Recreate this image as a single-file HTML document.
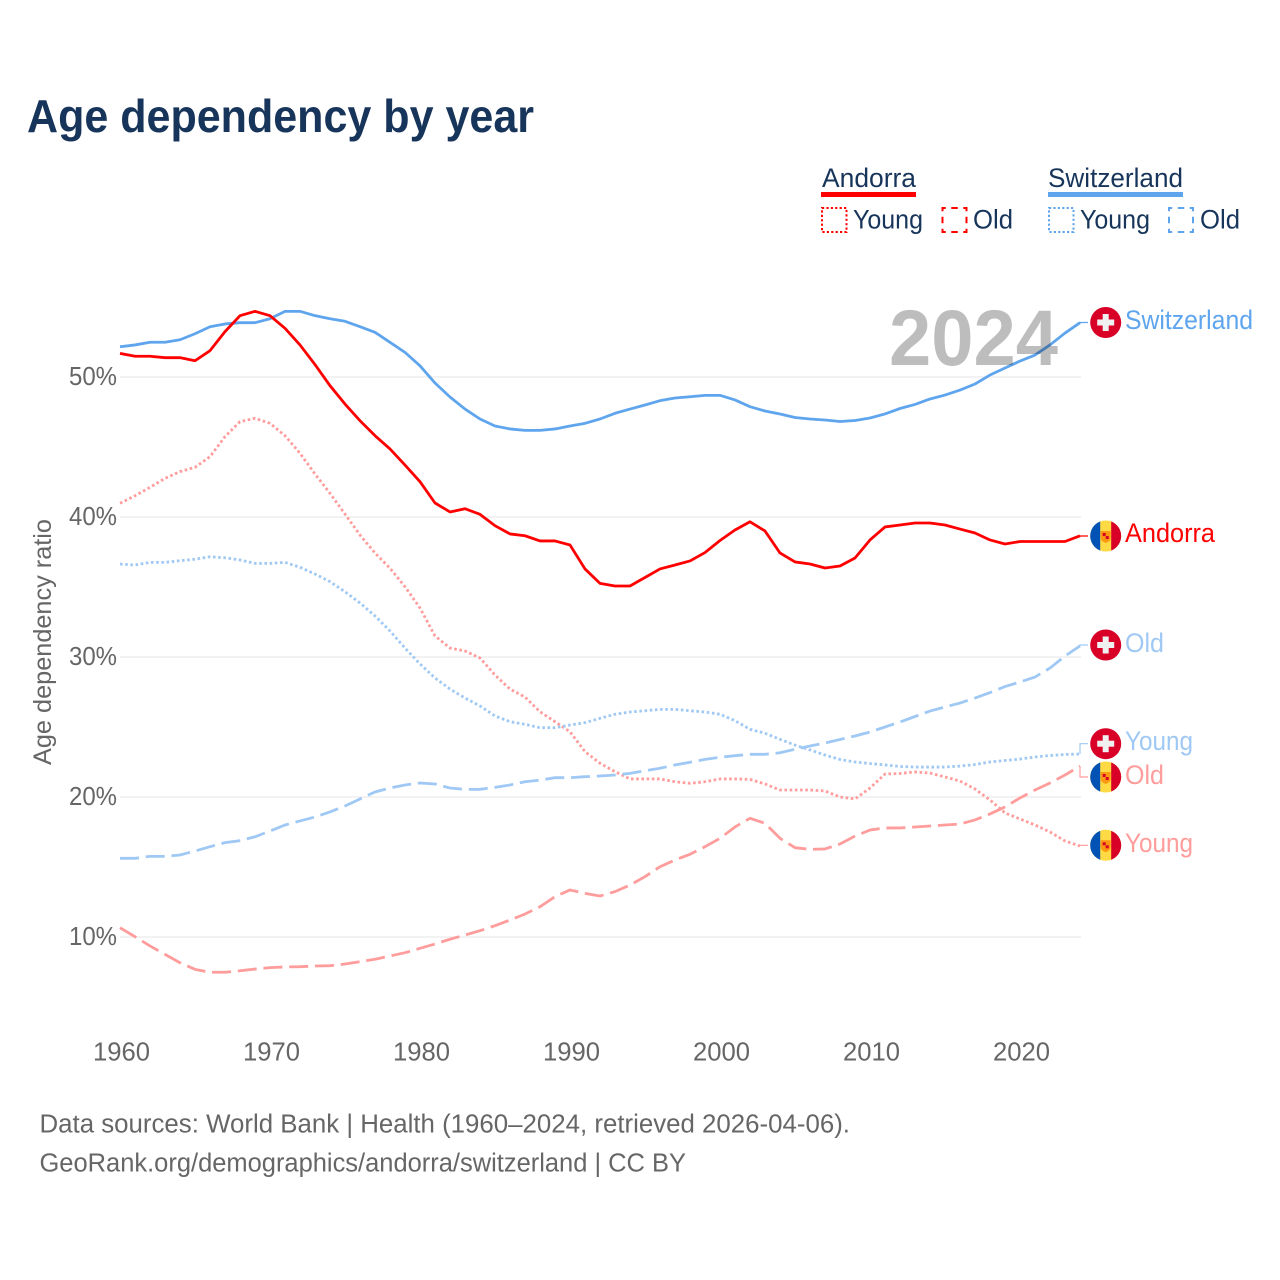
<!DOCTYPE html>
<html lang="en">
<head>
<meta charset="utf-8">
<title>Age dependency by year</title>
<style>
html,body{margin:0;padding:0;background:#fff;}
svg{display:block;font-family:"Liberation Sans",sans-serif;}
</style>
</head>
<body>
<svg id="chart" xmlns="http://www.w3.org/2000/svg" width="1280" height="1280" viewBox="0 0 1280 1280">
  <rect x="0" y="0" width="1280" height="1280" fill="#ffffff"/>
  <text x="27" y="132" font-size="46" font-weight="bold" fill="#17345a" textLength="507" lengthAdjust="spacingAndGlyphs">Age dependency by year</text>

  <g font-size="27" fill="#17345a">
    <text x="822" y="187" textLength="94" lengthAdjust="spacingAndGlyphs">Andorra</text>
    <rect x="821" y="192" width="95" height="5" fill="#ff0000"/>
    <rect x="822" y="208" width="24.5" height="24" fill="none" stroke="#ff0000" stroke-width="2" stroke-dasharray="2.2 2.2"/>
    <text x="853" y="228.5" textLength="70" lengthAdjust="spacingAndGlyphs">Young</text>
    <rect x="942.500" y="208" width="24" height="24" fill="none" stroke="#ff0000" stroke-width="2" stroke-dasharray="6.500 5.500" stroke-dashoffset="3.250"/>
    <text x="973" y="228.5" textLength="40" lengthAdjust="spacingAndGlyphs">Old</text>
    <text x="1048" y="187" textLength="135" lengthAdjust="spacingAndGlyphs">Switzerland</text>
    <rect x="1048" y="192" width="135" height="5" fill="#5fa5ee"/>
    <rect x="1049" y="208" width="24.5" height="24" fill="none" stroke="#5fa5ee" stroke-width="2" stroke-dasharray="2.2 2.2"/>
    <text x="1080" y="228.5" textLength="70" lengthAdjust="spacingAndGlyphs">Young</text>
    <rect x="1169" y="208" width="24" height="24" fill="none" stroke="#5fa5ee" stroke-width="2" stroke-dasharray="6.500 5.500" stroke-dashoffset="3.250"/>
    <text x="1200" y="228.5" textLength="40" lengthAdjust="spacingAndGlyphs">Old</text>
  </g>

  <text transform="translate(51 642) rotate(-90)" text-anchor="middle" font-size="25" fill="#666666" textLength="246" lengthAdjust="spacingAndGlyphs">Age dependency ratio</text>
  <g id="grid"></g>
  <g id="y-ticks"></g>
  <g id="x-ticks"></g>
  <g id="series"></g>

  <text x="889" y="365" font-size="79" font-weight="bold" fill="#000000" fill-opacity="0.26" textLength="169" lengthAdjust="spacingAndGlyphs">2024</text>

  <defs>
    <clipPath id="flag-clip"><circle cx="0" cy="0" r="15.500"/></clipPath>
    <g id="flag-ch">
      <circle cx="0" cy="0" r="15.500" fill="#d80027"/>
      <rect x="-8.500" y="-3" width="17" height="6" fill="#f0f0f0"/>
      <rect x="-3" y="-8.500" width="6" height="17" fill="#f0f0f0"/>
    </g>
    <g id="flag-ad">
      <g clip-path="url(#flag-clip)">
        <rect x="-16" y="-16" width="32" height="32" fill="#ffda44"/>
        <rect x="-16" y="-16" width="10.500" height="32" fill="#0052b4"/>
        <rect x="5.500" y="-16" width="10.500" height="32" fill="#d80027"/>
      </g>
      <path d="M-5 -5 H5 V2 Q5 5 0 7 Q-5 5 -5 2 Z" fill="#ff9811"/>
      <rect x="-3" y="-3" width="3" height="3" fill="#d80027"/>
      <rect x="0" y="0" width="3" height="3" fill="#d80027"/>
    </g>
  </defs>

  <g font-size="27">
    <use href="#flag-ch" x="1105.700" y="322.500"/>
    <text x="1125" y="329" fill="#5fa5ee" textLength="128" lengthAdjust="spacingAndGlyphs">Switzerland</text>
    <use href="#flag-ad" x="1105.700" y="536"/>
    <text x="1125" y="542" fill="#ff0000" textLength="90" lengthAdjust="spacingAndGlyphs">Andorra</text>
    <use href="#flag-ch" x="1105.700" y="645"/>
    <text x="1125" y="652" fill="#9fc9f4" textLength="39" lengthAdjust="spacingAndGlyphs">Old</text>
    <use href="#flag-ad" x="1105.700" y="777"/>
    <use href="#flag-ch" x="1105.700" y="743.700"/>
    <text x="1125" y="750" fill="#9fc9f4" textLength="68" lengthAdjust="spacingAndGlyphs">Young</text>
    <text x="1125" y="784" fill="#ff9c9c" textLength="39" lengthAdjust="spacingAndGlyphs">Old</text>
    <use href="#flag-ad" x="1105.700" y="845.300"/>
    <text x="1125" y="852" fill="#ff9c9c" textLength="68" lengthAdjust="spacingAndGlyphs">Young</text>
  </g>

  <g font-size="25.500" fill="#666666">
    <text x="39.500" y="1132.500" textLength="810.500" lengthAdjust="spacingAndGlyphs">Data sources: World Bank | Health (1960–2024, retrieved 2026-04-06).</text>
    <text x="39.500" y="1171.500" textLength="646.500" lengthAdjust="spacingAndGlyphs">GeoRank.org/demographics/andorra/switzerland | CC BY</text>
  </g>
</svg>
<script>
const startYear = 1960;
const xTickLabels = [1960, 1970, 1980, 1990, 2000, 2010, 2020];
const yTickLabels = [10, 20, 30, 40, 50];

const andorraTotal = [51.69,51.48,51.48,51.38,51.38,51.16,51.88,53.24,54.38,54.69,54.38,53.48,52.29,50.89,49.38,48.07,46.88,45.81,44.86,43.71,42.52,41.00,40.36,40.59,40.19,39.38,38.79,38.66,38.29,38.29,38.00,36.29,35.26,35.07,35.07,35.68,36.29,36.57,36.86,37.46,38.32,39.07,39.66,39.00,37.43,36.79,36.64,36.36,36.50,37.07,38.36,39.29,39.43,39.57,39.57,39.43,39.14,38.86,38.36,38.07,38.25,38.25,38.25,38.25,38.66];
const switzerlandTotal = [52.16,52.29,52.48,52.48,52.66,53.09,53.59,53.79,53.88,53.88,54.16,54.69,54.69,54.38,54.16,53.98,53.59,53.19,52.48,51.76,50.80,49.57,48.57,47.71,47.00,46.50,46.29,46.19,46.19,46.29,46.50,46.69,47.00,47.41,47.71,48.00,48.31,48.50,48.59,48.69,48.69,48.36,47.88,47.57,47.36,47.11,47.00,46.93,46.82,46.89,47.07,47.36,47.75,48.04,48.43,48.71,49.07,49.50,50.14,50.64,51.14,51.57,52.29,53.14,53.88];
const andorraYoung = [40.98,41.52,42.12,42.76,43.24,43.55,44.31,45.74,46.81,47.05,46.69,45.81,44.55,43.07,41.69,40.21,38.71,37.43,36.34,35.02,33.50,31.50,30.64,30.43,29.93,28.71,27.71,27.14,26.09,25.38,24.66,23.24,22.41,21.81,21.29,21.29,21.29,21.09,20.98,21.09,21.29,21.29,21.26,20.93,20.50,20.50,20.50,20.43,20.00,19.86,20.64,21.64,21.68,21.79,21.71,21.43,21.14,20.57,19.79,18.86,18.43,18.00,17.50,16.86,16.50];
const andorraOld = [10.66,10.02,9.36,8.76,8.16,7.69,7.48,7.48,7.59,7.71,7.81,7.86,7.88,7.93,7.95,8.07,8.24,8.41,8.64,8.88,9.19,9.50,9.84,10.14,10.45,10.81,11.21,11.64,12.16,12.88,13.36,13.12,12.93,13.24,13.71,14.31,15.02,15.50,15.91,16.45,17.05,17.86,18.48,18.12,17.05,16.38,16.26,16.29,16.64,17.21,17.64,17.79,17.79,17.86,17.93,18.00,18.07,18.36,18.79,19.29,19.93,20.50,21.00,21.57,22.21];
const switzerlandYoung = [36.64,36.57,36.76,36.76,36.88,36.98,37.16,37.09,36.93,36.69,36.69,36.76,36.41,35.93,35.38,34.66,33.86,32.93,31.86,30.64,29.50,28.50,27.71,27.07,26.50,25.79,25.38,25.19,24.95,24.95,25.14,25.31,25.62,25.91,26.07,26.16,26.26,26.26,26.16,26.07,25.91,25.45,24.84,24.55,24.12,23.71,23.36,23.00,22.68,22.50,22.39,22.29,22.18,22.14,22.14,22.14,22.21,22.32,22.50,22.61,22.71,22.86,22.96,23.04,23.07];
const switzerlandOld = [15.62,15.62,15.76,15.76,15.86,16.14,16.45,16.74,16.88,17.16,17.57,18.00,18.29,18.57,18.93,19.36,19.86,20.36,20.64,20.86,21.00,20.93,20.64,20.54,20.55,20.69,20.86,21.09,21.21,21.38,21.38,21.45,21.50,21.57,21.69,21.88,22.05,22.29,22.48,22.69,22.84,22.95,23.05,23.05,23.16,23.41,23.64,23.86,24.11,24.36,24.64,25.00,25.36,25.75,26.14,26.43,26.71,27.07,27.46,27.89,28.21,28.57,29.21,30.07,30.79];

const SVG_NS = 'http://www.w3.org/2000/svg';
function xScale(year) { return 120 + (year - startYear) * 15; }
function yScale(pct) { return 937 - (pct - 10) * 14; }

function make(tag, parent) {
  const el = document.createElementNS(SVG_NS, tag);
  document.getElementById(parent).appendChild(el);
  return el;
}

yTickLabels.forEach(function (t) {
  const line = make('line', 'grid');
  
  
  line.setAttribute('x1', 120);
  line.setAttribute('x2', 1081);
  line.setAttribute('y1', yScale(t));
  line.setAttribute('y2', yScale(t));
  line.setAttribute('stroke', '#eeeeee');
  line.setAttribute('stroke-width', 1.6);
  const label = make('text', 'y-ticks');
  
  
  label.setAttribute('x', 117);
  label.setAttribute('y', yScale(t) + 8);
  label.setAttribute('text-anchor', 'end');
  label.setAttribute('font-size', 25.5);
  label.setAttribute('fill', '#666666');
  label.setAttribute('textLength', 48);
  label.setAttribute('lengthAdjust', 'spacingAndGlyphs');
  label.textContent = t + '%';
});

xTickLabels.forEach(function (t) {
  const label = make('text', 'x-ticks');
  
  
  label.setAttribute('x', xScale(t) + 1.5);
  label.setAttribute('y', 1060.5);
  label.setAttribute('text-anchor', 'middle');
  label.setAttribute('font-size', 25.5);
  label.setAttribute('fill', '#666666');
  label.setAttribute('textLength', 57);
  label.setAttribute('lengthAdjust', 'spacingAndGlyphs');
  label.textContent = t;
});

function drawSeries(name, values, color, dash, flagY) {
  const pts = values.map(function (v, i) {
    return xScale(startYear + i).toFixed(1) + ',' + yScale(v).toFixed(2);
  });
  const line = make('polyline', 'series');
  
  
  line.setAttribute('points', pts.join(' '));
  line.setAttribute('fill', 'none');
  line.setAttribute('stroke', color);
  line.setAttribute('stroke-width', 2.8);
  line.setAttribute('stroke-linejoin', 'round');
  if (dash) { line.setAttribute('stroke-dasharray', dash); }
  const lastX = xScale(startYear + values.length - 1);
  const lastY = yScale(values[values.length - 1]);
  const leader = make('path', 'series');
  
  
  leader.setAttribute('d', 'M' + lastX + ' ' + lastY.toFixed(2) + ' V' + flagY + ' H1088');
  leader.setAttribute('fill', 'none');
  leader.setAttribute('stroke', color);
  leader.setAttribute('stroke-width', 1.2);
}

const DOT = '2.6 2.6';
const DASH = '19 6.8';
drawSeries('andorra-young', andorraYoung, '#ff9c9c', DOT, 845.3);
drawSeries('switzerland-young', switzerlandYoung, '#9fc9f4', DOT, 743.7);
drawSeries('andorra-old', andorraOld, '#ff9c9c', DASH, 777);
drawSeries('switzerland-old', switzerlandOld, '#9fc9f4', DASH, 645);
drawSeries('switzerland-total', switzerlandTotal, '#5fa5ee', '', 322.5);
drawSeries('andorra-total', andorraTotal, '#ff0000', '', 536);
</script>
</body>
</html>
